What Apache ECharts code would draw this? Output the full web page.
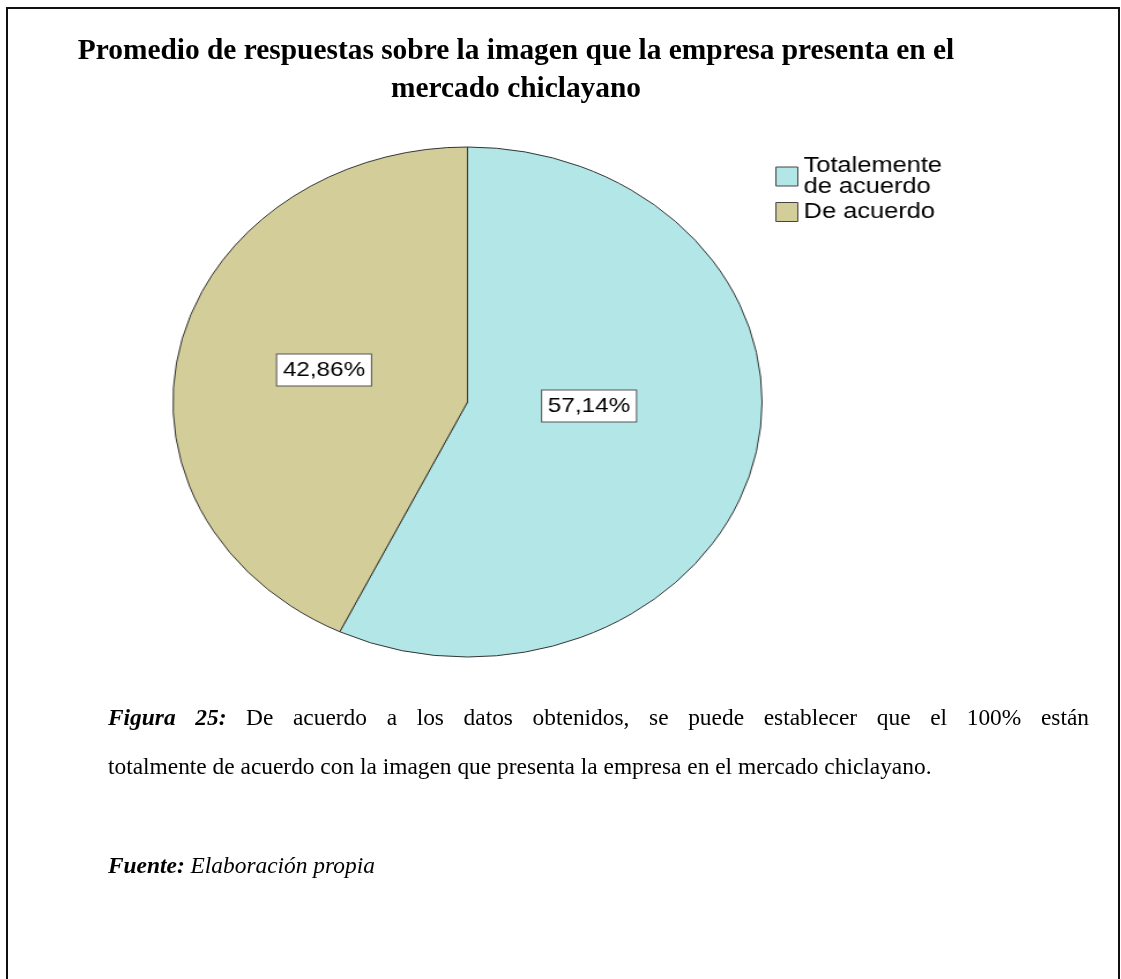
<!DOCTYPE html>
<html>
<head>
<meta charset="utf-8">
<script src="https://cdn.jsdelivr.net/npm/echarts@6/dist/echarts.min.js"></script>
<style>
  html, body { margin: 0; padding: 0; background: #ffffff; overflow: hidden; }
  #page { position: absolute; left: 0; top: 0; width: 1121px; height: 979px; }
  #pie { position: absolute; left: 0; top: 0; width: 1121px; height: 979px;
         transform-origin: 467.5px 0; transform: scaleX(1.155); }
</style>
</head>
<body>
<div id="page"></div>
<div id="pie"></div>
<script>
// ---- data ----
const titleLines = [
  'Promedio de respuestas sobre la imagen que la empresa presenta en el',
  'mercado chiclayano'
];
const categories = ['Totalemente de acuerdo', 'De acuerdo'];
const legendLabels = ['Totalemente\nde acuerdo', 'De acuerdo'];
const percentages = [57.14, 42.86];
const captionLabel = 'Figura 25:';
const captionLine1 = 'De acuerdo a los datos obtenidos, se puede establecer que el 100% están';
const captionLine2 = 'totalmente de acuerdo con la imagen que presenta la empresa en el mercado chiclayano.';
const sourceLabel = 'Fuente:';
const sourceText = 'Elaboración propia';

// ---- styles ----
const SERIF = "'Liberation Serif', 'Times New Roman', serif";
const SANS = "'Liberation Sans', Arial, sans-serif";
const sliceColors = ['#B3E6E6', '#D3CE99'];
const labelNudge = [{ dx: -22, dy: -25 }, { dx: 3, dy: -3 }];

const ctx = document.createElement('canvas').getContext('2d');
function measure(text, style, weight, size) {
  ctx.font = style + ' ' + weight + ' ' + size + 'px ' + SERIF;
  return ctx.measureText(text).width;
}

// font sizes fitted to reference widths
const titleSize = 877 / measure(titleLines[0], 'normal', 'bold', 100) * 100;
const capSize = 824 / measure(captionLine2, 'normal', 'normal', 100) * 100;

function midY(baseline, fs) { return baseline - 0.30 * fs; }

const graphics = [];
// page border
graphics.push({
  type: 'rect', shape: { x: 7, y: 8, width: 1112, height: 1100 },
  style: { fill: 'none', stroke: '#111', lineWidth: 2 }, silent: true
});
// title
const titleBaselines = [60, 98];
titleLines.forEach((t, i) => {
  graphics.push({
    type: 'text', x: 516, y: midY(titleBaselines[i], titleSize),
    style: { text: t, fontFamily: SERIF, fontWeight: 'bold', fontSize: titleSize,
             fill: '#000', align: 'center', verticalAlign: 'middle' }
  });
});
// caption line 1, justified between 108 and 1089
const words = [];
captionLabel.split(' ').forEach(w => words.push({ t: w, st: 'italic', wt: 'bold' }));
captionLine1.split(' ').forEach(w => words.push({ t: w, st: 'normal', wt: 'normal' }));
const widths = words.map(w => measure(w.t, w.st, w.wt, capSize));
const sumW = widths.reduce((a, b) => a + b, 0);
const gap = (1089 - 108 - sumW) / (words.length - 1);
let cx = 108;
words.forEach((w, i) => {
  graphics.push({
    type: 'text', x: cx, y: midY(726, capSize),
    style: { text: w.t, fontFamily: SERIF, fontStyle: w.st, fontWeight: w.wt,
             fontSize: capSize, fill: '#000', align: 'left', verticalAlign: 'middle' }
  });
  cx += widths[i] + gap;
});
// caption line 2
graphics.push({
  type: 'text', x: 108, y: midY(775, capSize),
  style: { text: captionLine2, fontFamily: SERIF, fontSize: capSize, fill: '#000',
           align: 'left', verticalAlign: 'middle' }
});
// source line
graphics.push({
  type: 'text', x: 108, y: midY(874, capSize),
  style: {
    text: '{b|' + sourceLabel + '} {i|' + sourceText + '}',
    fontFamily: SERIF, fontSize: capSize, fill: '#000', align: 'left', verticalAlign: 'middle',
    rich: {
      b: { fontFamily: SERIF, fontSize: capSize, fontStyle: 'italic', fontWeight: 'bold', fill: '#000' },
      i: { fontFamily: SERIF, fontSize: capSize, fontStyle: 'italic', fill: '#000' }
    }
  }
});

const page = echarts.init(document.getElementById('page'), null, { renderer: 'canvas' });
page.setOption({ backgroundColor: '#ffffff', animation: false, graphic: graphics });

// ---- pie (stretched horizontally like the reference) ----
const pie = echarts.init(document.getElementById('pie'), null, { renderer: 'canvas' });
pie.setOption({
  backgroundColor: 'transparent',
  animation: false,
  color: sliceColors,
  legend: {
    orient: 'vertical', left: 729, top: 150, itemGap: 3,
    itemWidth: 19, itemHeight: 19, icon: 'rect',
    itemStyle: { borderColor: '#444', borderWidth: 1 },
    textStyle: { fontFamily: SANS, fontSize: 22, lineHeight: 21, color: '#000', align: 'left' },
    formatter: name => legendLabels[categories.indexOf(name)],
    data: categories
  },
  series: [{
    type: 'pie',
    center: [467.5, 402], radius: 255,
    startAngle: 90, clockwise: true,
    itemStyle: { borderColor: '#333', borderWidth: 1 },
    label: {
      show: true, position: 'inside',
      formatter: p => p.value.toFixed(2).replace('.', ',') + '%',
      fontFamily: SANS, fontSize: 21, lineHeight: 24, color: '#000',
      backgroundColor: '#fff', borderColor: '#555', borderWidth: 1,
      padding: [4, 5, 3, 5]
    },
    labelLayout: p => labelNudge[p.dataIndex],
    labelLine: { show: false },
    emphasis: { disabled: true },
    data: categories.map((c, i) => ({ name: c, value: percentages[i] }))
  }]
});
</script>
</body>
</html>
